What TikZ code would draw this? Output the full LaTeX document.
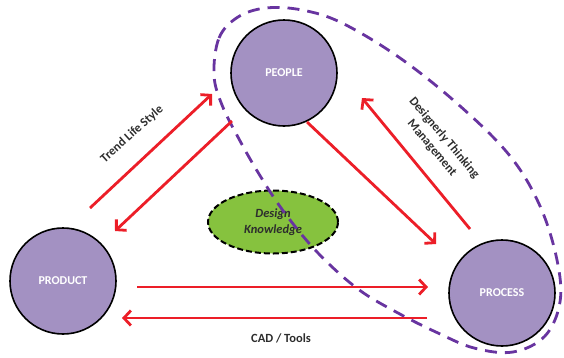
\documentclass[tikz,border=0pt]{standalone}
\usepackage{fontspec}
\setmainfont{Carlito}
\usetikzlibrary{arrows.meta,shapes.geometric}
\definecolor{circfill}{RGB}{163,145,194}
\definecolor{loopcol}{RGB}{104,52,160}
\definecolor{arrred}{RGB}{236,30,40}
\definecolor{knowgreen}{RGB}{134,194,62}
\definecolor{labgray}{RGB}{45,45,45}
\tikzset{
  hub/.style={circle, draw=black, line width=1.6pt, fill=circfill,
    minimum size=106pt, inner sep=0pt, text=white,
    font=\fontsize{12}{14}\selectfont\bfseries},
  flow/.style={draw=arrred, line width=2.8pt,
    -{Straight Barb[length=7pt,width=15pt,line width=2.8pt]}},
  lab/.style={text=labgray, font=\fontsize{12.5}{15}\selectfont\bfseries, inner sep=1pt},
}
\begin{document}
\begin{tikzpicture}[x=1pt,y=-1pt]
\useasboundingbox (0,0) rectangle (564,357);

% knowledge ellipse
\node[ellipse, draw=black, line width=2pt, dash pattern=on 6pt off 3pt,
  fill=knowgreen, minimum width=130pt, minimum height=63pt, inner sep=0pt,
  align=center, text=labgray, font=\fontsize{12.5}{16}\selectfont\bfseries\itshape]
  (know) at (273,222) {Design\\Knowledge};

% grouping loop around people and process
\draw[loopcol, line width=2.8pt, dash pattern=on 12pt off 8pt]
  plot[smooth cycle, tension=0.6] coordinates {
    (214,75) (219,38) (238,17) (266,8) (302,10) (342,23) (400,58)
    (460,106) (510,156) (540,206) (557,260) (560,302) (545,336)
    (513,352) (474,348) (438,333) (398,313) (358,289) (318,253)
    (284,212) (259,174) (239,139) (222,105)};

% main hubs
\node[hub] (people)  at (284,73)  {PEOPLE};
\node[hub] (product) at (63,281)  {PRODUCT};
\node[hub] (process) at (502,293) {PROCESS};

% connector end points
\coordinate (a1s) at (90,208);   \coordinate (a1e) at (212,94);
\coordinate (a2s) at (232,121);  \coordinate (a2e) at (115,231);
\coordinate (a3s) at (307,122);  \coordinate (a3e) at (436,244);
\coordinate (a4s) at (470,229);  \coordinate (a4e) at (362,98);
\coordinate (a5s) at (137,287);  \coordinate (a5e) at (428,287);
\coordinate (a6s) at (427,318);  \coordinate (a6e) at (122,318);

\draw[flow] (a1s) -- (a1e);
\draw[flow] (a2s) -- (a2e);
\draw[flow] (a3s) -- (a3e);
\draw[flow] (a4s) -- (a4e);
\draw[flow] (a5s) -- (a5e);
\draw[flow] (a6s) -- (a6e);

% connector labels
\node[lab, rotate=42] (ltrend) at (132,134) {Trend Life Style};
\node[lab, rotate=-50, align=center, font=\fontsize{12.5}{16}\selectfont\bfseries]
  (lthink) at (438,143) {Designerly Thinking\\Management};
\node[lab] (lcad) at (281,338) {CAD / Tools};
\end{tikzpicture}
\end{document}
